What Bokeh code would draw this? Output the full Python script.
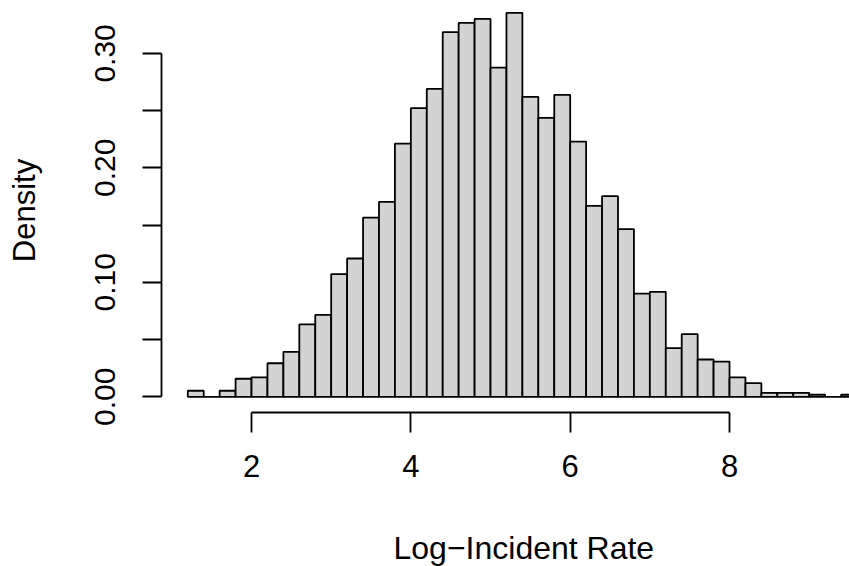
from bokeh.plotting import figure
from bokeh.models import FixedTicker, NumeralTickFormatter, Range1d, ColumnDataSource, Title
from bokeh.embed import file_html
from bokeh.resources import INLINE

# Histogram bin breaks (width 0.2) and densities
bin_left = [1.2, 1.4, 1.6, 1.8, 2.0, 2.2, 2.4, 2.6, 2.8, 3.0, 3.2, 3.4, 3.6, 3.8,
            4.0, 4.2, 4.4, 4.6, 4.8, 5.0, 5.2, 5.4, 5.6, 5.8, 6.0, 6.2, 6.4, 6.6,
            6.8, 7.0, 7.2, 7.4, 7.6, 7.8, 8.0, 8.2, 8.4, 8.6, 8.8, 9.0, 9.2, 9.4]
bin_right = [1.4, 1.6, 1.8, 2.0, 2.2, 2.4, 2.6, 2.8, 3.0, 3.2, 3.4, 3.6, 3.8, 4.0,
             4.2, 4.4, 4.6, 4.8, 5.0, 5.2, 5.4, 5.6, 5.8, 6.0, 6.2, 6.4, 6.6, 6.8,
             7.0, 7.2, 7.4, 7.6, 7.8, 8.0, 8.2, 8.4, 8.6, 8.8, 9.0, 9.2, 9.4, 9.6]
density = [0.0053, 0.0, 0.0053, 0.0158, 0.0170, 0.0293, 0.0393, 0.0632, 0.0716, 0.1072,
           0.1208, 0.1566, 0.1703, 0.2212, 0.2521, 0.2690, 0.3185, 0.3266, 0.3301, 0.2876,
           0.3354, 0.2620, 0.2437, 0.2638, 0.2230, 0.1668, 0.1753, 0.1465, 0.0902, 0.0917,
           0.0425, 0.0548, 0.0326, 0.0308, 0.0169, 0.0120, 0.0035, 0.0035, 0.0035, 0.0018,
           0.0, 0.0018]

x_ticks = [2, 4, 6, 8]
y_ticks = [0.0, 0.1, 0.2, 0.3]
y_minor_ticks = [0.05, 0.15, 0.25]

x_label = "Log\u2212Incident Rate"
y_label = "Density"

FONT = "Liberation Sans"

p = figure(
    frame_width=688, frame_height=404,
    x_range=Range1d(0.870, 9.506), y_range=Range1d(-0.0137, 0.3392),
    output_backend="svg", toolbar_location=None,
    min_border_left=161, min_border_right=0, min_border_top=8, min_border_bottom=154,
    background_fill_color="white", border_fill_color="white",
)
p.outline_line_color = None
p.xgrid.visible = False
p.ygrid.visible = False

src = ColumnDataSource(dict(left=bin_left, right=bin_right, top=density,
                            bottom=[0.0] * len(density)))
p.quad(left="left", right="right", top="top", bottom="bottom", source=src,
       fill_color="#D3D3D3", line_color="black", line_width=1.8)

lw = 1.8
for ax in (p.xaxis[0], p.yaxis[0]):
    ax.axis_line_width = lw
    ax.axis_line_color = "black"
    ax.major_tick_line_width = lw
    ax.major_tick_line_color = "black"
    ax.minor_tick_line_width = lw
    ax.minor_tick_line_color = "black"
    ax.major_tick_in = 0
    ax.minor_tick_in = 0
    ax.major_label_text_font = FONT
    ax.major_label_text_color = "black"
    ax.axis_label_text_font = FONT
    ax.axis_label_text_font_size = "31px"
    ax.axis_label_text_font_style = "normal"
    ax.axis_label_text_color = "black"

xa = p.xaxis[0]
xa.ticker = FixedTicker(ticks=x_ticks)
xa.bounds = (min(x_ticks), max(x_ticks))
xa.major_tick_out = 20
xa.minor_tick_out = 0
xa.major_label_text_font_size = "31px"
xa.major_label_standoff = 22

ya = p.yaxis[0]
ya.ticker = FixedTicker(ticks=y_ticks, minor_ticks=y_minor_ticks)
ya.bounds = (min(y_ticks), max(y_ticks))
ya.formatter = NumeralTickFormatter(format="0.00")
ya.major_label_text_font_size = "30px"
ya.major_tick_out = 19
ya.minor_tick_out = 19
ya.major_label_orientation = "vertical"
ya.major_label_standoff = 27
ya.axis_label = y_label
ya.axis_label_standoff = 51

# x-axis title below the axis, placed where R centres it on its wider plot region
x_title = Title(text=x_label, align="left", offset=232, standoff=97,
                text_font=FONT, text_font_size="32px", text_font_style="normal",
                text_color="black")
p.add_layout(x_title, "below")

open("out.html", "w").write(file_html(p, INLINE))
